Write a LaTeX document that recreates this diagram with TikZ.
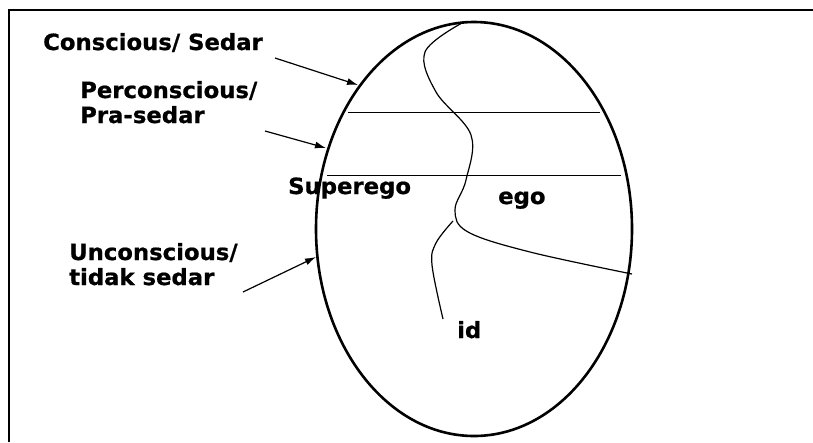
\documentclass[tikz,border=0pt]{standalone}
\usepackage{fontspec}
\setmainfont{DejaVu Sans}
\newfontfamily\lblfont{DejaVu Sans}[FakeStretch=1.02,BoldFeatures={FakeBold=0.8}]
\usetikzlibrary{shapes.geometric,arrows.meta}
\tikzset{
  lbl/.style={font=\lblfont\bfseries\fontsize{22.3}{25}\selectfont, inner sep=0pt, anchor=base west, align=left},
  pointer/.style={line width=1.2pt, -{Latex[length=11pt,width=7pt]}},
  thin/.style={line width=0.9pt},
}
\begin{document}
\begin{tikzpicture}[x=1pt,y=-1pt]
\useasboundingbox (0,0) rectangle (813,442);
% frame
\draw[line width=2.4pt] (9,442) -- (9,10) -- (813,10);
% oval
\node[draw, ellipse, line width=2.6pt, minimum width=316pt, minimum height=414pt, inner sep=0pt] (oval) at (474,229) {};
% level lines
\draw[thin] (348,112) -- (600,112);
\draw[thin] (327,175) -- (621,175);
% ego boundary curve
\draw[line width=1.2pt] plot[smooth, tension=0.6] coordinates {(462,23) (425,52) (436,92) (471,135) (466,180) (455,210) (468,232) (530,252) (632,274)};
% id branch
\draw[line width=1.2pt] plot[smooth, tension=0.6] coordinates {(453,221) (436,243) (432,265) (443,319)};
% labels
\node[lbl] (cons) at (43,50) {Conscious/ Sedar};
\node[lbl] (perc) at (80,123) {Perconscious/\\Pra-sedar};
\node[lbl] (unc) at (69,285) {Unconscious/\\tidak sedar};
\node[lbl] (sup) at (288,194) {Superego};
\node[lbl] (ego) at (498,204) {ego};
\node[lbl] (id) at (457,338) {id};
% arrow ends
\coordinate (c1) at (358,85);
\coordinate (c2) at (326,148);
\coordinate (c3) at (316,257);
\coordinate (s1) at (275,58);
\coordinate (s2) at (265,131);
\coordinate (s3) at (243,292);
\draw[pointer] (s1) -- (c1);
\draw[pointer] (s2) -- (c2);
\draw[pointer] (s3) -- (c3);
\end{tikzpicture}
\end{document}
